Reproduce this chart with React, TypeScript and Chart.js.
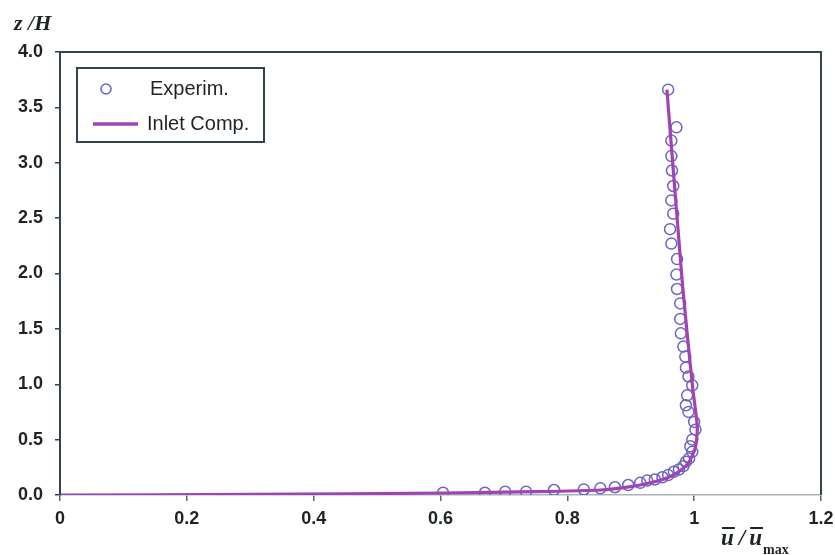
import React, { useEffect, useRef } from "react";
import { Chart, registerables } from "chart.js";

Chart.register(...registerables);

// Experimental data (u/umax, z/H)
const expU = [
  0.959, 0.972, 0.964, 0.964, 0.965, 0.967, 0.964, 0.967, 0.962, 0.964,
  0.973, 0.972, 0.973, 0.978, 0.978, 0.979, 0.983, 0.986, 0.987, 0.991,
  0.997, 0.989, 0.987, 0.991, 1.0, 1.002, 0.997, 0.994, 0.997, 0.992,
  0.987, 0.983, 0.976, 0.968, 0.959, 0.95, 0.938, 0.926, 0.915, 0.896,
  0.875, 0.852, 0.826, 0.779, 0.735, 0.702, 0.67, 0.604,
];
const expZ = [
  3.66, 3.32, 3.2, 3.06, 2.93, 2.79, 2.66, 2.54, 2.4, 2.27,
  2.13, 1.99, 1.86, 1.73, 1.59, 1.46, 1.34, 1.25, 1.15, 1.07,
  0.99, 0.9, 0.81, 0.75, 0.66, 0.59, 0.5, 0.44, 0.39, 0.33,
  0.3, 0.26, 0.23, 0.21, 0.18, 0.16, 0.14, 0.13, 0.11, 0.09,
  0.07, 0.06, 0.05, 0.045, 0.03, 0.03, 0.02, 0.02,
];

// Inlet computation profile
const compU = [0, 0.3, 0.606, 0.75, 0.852, 0.9, 0.931, 0.955, 0.973, 0.991, 1.002, 1.005, 0.998, 0.991, 0.981, 0.957];
const compZ = [0, 0.005, 0.018, 0.03, 0.045, 0.075, 0.11, 0.15, 0.2, 0.29, 0.43, 0.61, 0.95, 1.34, 1.94, 3.66];

const seriesNames = ["Experim.", "Inlet Comp."];
const xTicksMin = 0, xTicksMax = 1.2, xStep = 0.2;
const yTicksMin = 0, yTicksMax = 4, yStep = 0.5;

const POINT_COLOR = "#6a66c2";
const LINE_COLOR = "#a143b5";
const AXIS_DARK = "#34434a";
const TEXT = "#1e2326";

const decorPlugin = {
  id: "decor",
  afterDraw(chart: any) {
    const { ctx, chartArea } = chart;
    const { left, top, right, bottom } = chartArea;
    ctx.save();
    // frame: top, left, right dark; bottom light
    ctx.strokeStyle = AXIS_DARK;
    ctx.lineWidth = 2;
    ctx.beginPath();
    ctx.moveTo(left, bottom);
    ctx.lineTo(left, top);
    ctx.lineTo(right, top);
    ctx.lineTo(right, bottom);
    ctx.stroke();

    // legend
    const lx = 77, ly = 68, lw = 187, lh = 74;
    ctx.fillStyle = "#ffffff";
    ctx.fillRect(lx, ly, lw, lh);
    ctx.strokeStyle = AXIS_DARK;
    ctx.lineWidth = 2;
    ctx.strokeRect(lx, ly, lw, lh);
    ctx.strokeStyle = POINT_COLOR;
    ctx.lineWidth = 1.6;
    ctx.beginPath();
    ctx.arc(106, 89, 5, 0, Math.PI * 2);
    ctx.stroke();
    ctx.strokeStyle = LINE_COLOR;
    ctx.lineWidth = 3.5;
    ctx.beginPath();
    ctx.moveTo(93, 124);
    ctx.lineTo(138, 124);
    ctx.stroke();
    ctx.fillStyle = TEXT;
    ctx.font = "20px 'Liberation Sans', Arial, sans-serif";
    ctx.textBaseline = "middle";
    ctx.textAlign = "left";
    ctx.fillText(seriesNames[0], 150, 89);
    ctx.fillText(seriesNames[1], 147, 124);

    // y axis title
    ctx.font = "bold italic 22px 'Liberation Serif', 'Times New Roman', serif";
    ctx.textBaseline = "alphabetic";
    ctx.fillText("z /H", 14, 30);

    // x axis title: ū / ū_max
    ctx.font = "bold italic 23px 'Liberation Serif', 'Times New Roman', serif";
    const x0 = 721, base = 545;
    ctx.fillText("u", x0, base);
    const uw = ctx.measureText("u").width;
    ctx.fillText("/", x0 + uw + 5, base);
    const sw = ctx.measureText("/").width;
    const x1 = x0 + uw + 5 + sw + 4;
    ctx.fillText("u", x1, base);
    ctx.lineWidth = 1.8;
    ctx.strokeStyle = TEXT;
    ctx.beginPath();
    ctx.moveTo(x0 + 1, 528);
    ctx.lineTo(x0 + uw + 1, 528);
    ctx.moveTo(x1 + 1, 528);
    ctx.lineTo(x1 + uw + 1, 528);
    ctx.stroke();
    ctx.font = "bold 14px 'Liberation Serif', 'Times New Roman', serif";
    ctx.fillText("max", x1 + uw + 1, 554);
    ctx.restore();
  },
};

export default function App() {
  const ref = useRef<HTMLCanvasElement | null>(null);
  useEffect(() => {
    document.body.style.margin = "0";
    const canvas = ref.current;
    if (!canvas) return;
    const tickFont = { family: "'Liberation Sans', Arial, sans-serif", size: 18, weight: "bold" as const };
    const chart = new Chart(canvas, {
      type: "scatter",
      data: {
        datasets: [
          {
            label: seriesNames[1],
            data: compU.map((u, i) => ({ x: u, y: compZ[i] })),
            showLine: true,
            borderColor: LINE_COLOR,
            borderWidth: 3.2,
            pointRadius: 0,
            tension: 0.2,
            order: 0,
          },
          {
            label: seriesNames[0],
            data: expU.map((u, i) => ({ x: u, y: expZ[i] })),
            showLine: false,
            pointRadius: 5.5,
            pointBorderWidth: 1.5,
            pointBorderColor: POINT_COLOR,
            pointBackgroundColor: "rgba(0,0,0,0)",
            order: 1,
          },
        ],
      },
      options: {
        responsive: false,
        animation: false,
        layout: { padding: { left: 0, top: 52, right: 14, bottom: 0 } },
        plugins: { legend: { display: false }, tooltip: { enabled: false } },
        scales: {
          x: {
            type: "linear",
            min: xTicksMin,
            max: xTicksMax,
            ticks: {
              stepSize: xStep,
              font: tickFont,
              color: TEXT,
              padding: 7,
              callback: (v: any) => String(Number(Number(v).toFixed(1))),
            },
            grid: { drawOnChartArea: false, drawTicks: true, tickLength: 6, color: "#56646a", lineWidth: 1.5 },
            border: { display: true, color: "#a9b4b8", width: 1.5 },
            afterFit(scale: any) {
              scale.height = 60;
              scale.paddingLeft = 0;
              scale.paddingRight = 0;
            },
          },
          y: {
            type: "linear",
            min: yTicksMin,
            max: yTicksMax,
            ticks: {
              stepSize: yStep,
              font: tickFont,
              color: TEXT,
              padding: 12,
              callback: (v: any) => Number(v).toFixed(1),
            },
            grid: { drawOnChartArea: false, drawTicks: true, tickLength: 5, color: AXIS_DARK, lineWidth: 1.5 },
            border: { display: true, color: AXIS_DARK, width: 2 },
            afterFit(scale: any) {
              scale.width = 60;
              scale.paddingTop = 0;
              scale.paddingBottom = 0;
            },
          },
        },
      },
      plugins: [decorPlugin],
    });
    return () => chart.destroy();
  }, []);
  return (
    <div style={{ position: "absolute", left: 0, top: 0, width: 835, height: 555, background: "#fff" }}>
      <canvas ref={ref} width={835} height={555} />
    </div>
  );
}
